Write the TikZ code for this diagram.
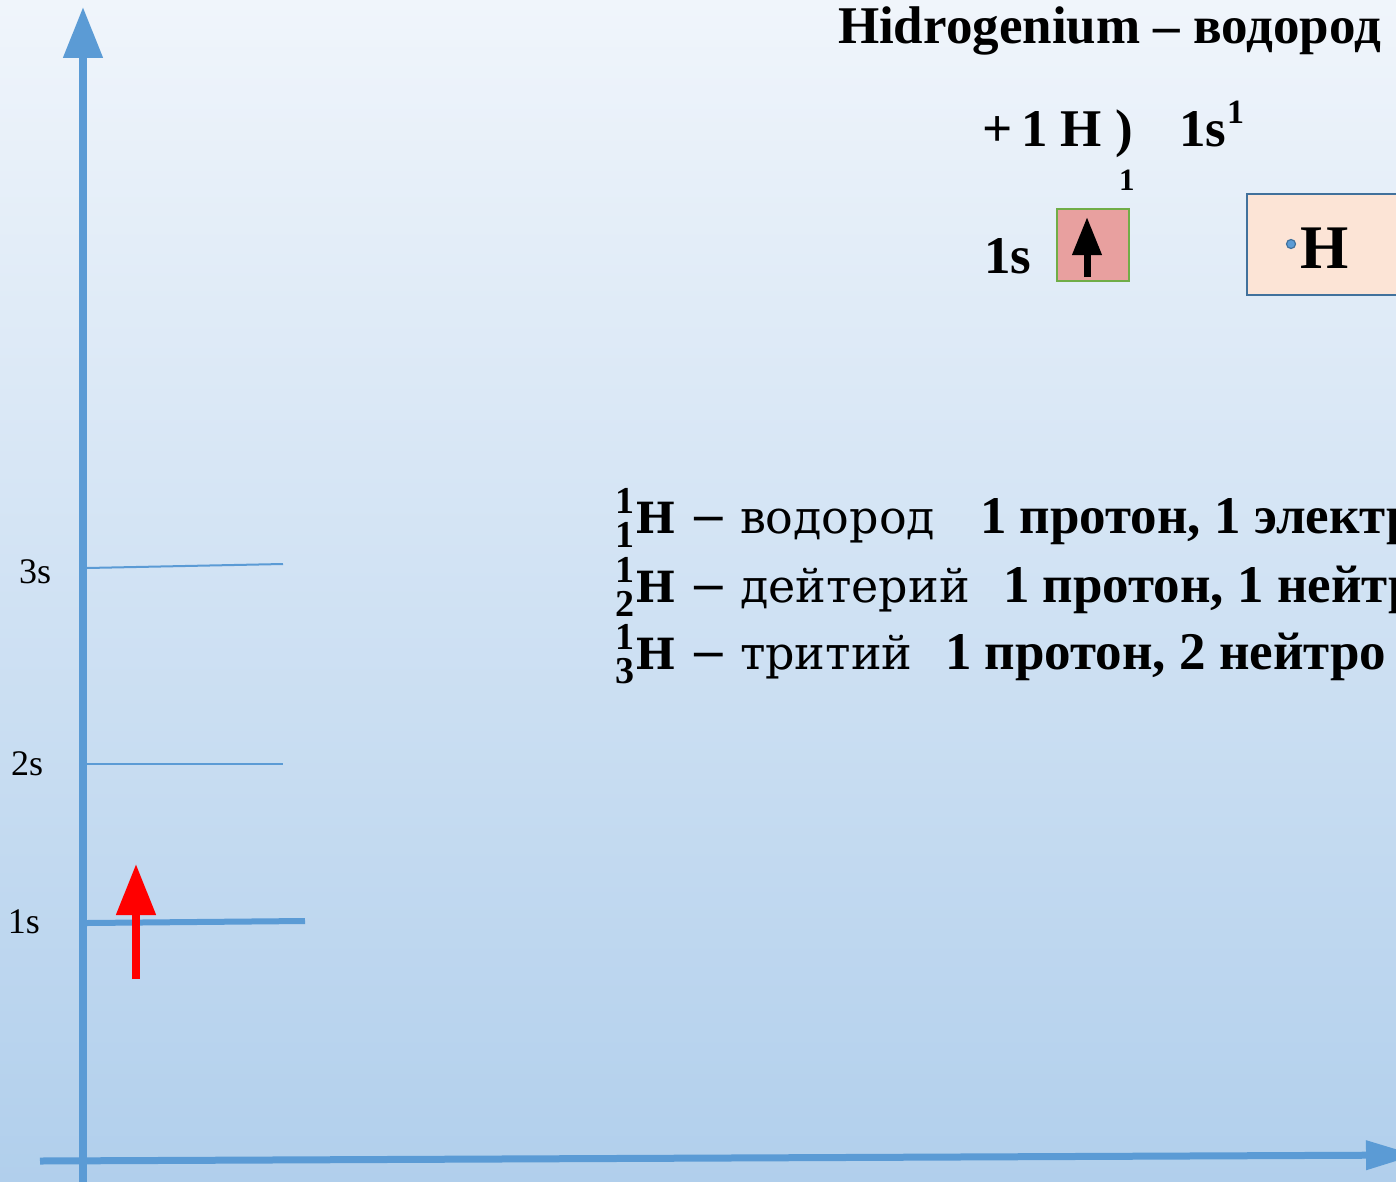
\documentclass[tikz,border=0pt]{standalone}
\usepackage{fontspec}
\setmainfont{Liberation Serif}
\newfontfamily\dvs{DejaVu Serif}
\usetikzlibrary{arrows.meta}
\definecolor{axisblue}{HTML}{5B9BD5}
\definecolor{bgtop}{HTML}{F0F5FB}
\definecolor{bgbot}{HTML}{B1CFEC}
\definecolor{orbfill}{HTML}{E8A09F}
\definecolor{orbdraw}{HTML}{70AD47}
\definecolor{hfill}{HTML}{FCE4D6}
\definecolor{hdraw}{HTML}{41719C}
\tikzset{
  txt/.style={anchor=base west, inner sep=0pt, outer sep=0pt},
  titletxt/.style={txt, font=\fontsize{53}{58}\selectfont\bfseries},
  bigbold/.style={txt, font=\fontsize{53}{60}\selectfont\bfseries},
  lvltxt/.style={txt, font=\fontsize{36}{40}\selectfont},
  isodigit/.style={txt, font=\fontsize{38}{42}\selectfont\bfseries},
  isoH/.style={txt, font=\fontsize{43}{48}\selectfont\dvs\bfseries},
  isoword/.style={txt, font=\fontsize{46}{50}\selectfont\dvs},
  isobold/.style={txt, font=\fontsize{53}{60}\selectfont\bfseries},
  axisline/.style={draw=axisblue, line width=8pt},
  level/.style={draw=axisblue, line width=2pt},
}
\begin{document}
\begin{tikzpicture}[x=1pt,y=-1pt]
\useasboundingbox (0,0) rectangle (1396,1182);
\shade[top color=bgtop, bottom color=bgbot] (0,0) rectangle (1396,1182);

% axes
\coordinate (vbot) at (83,1182);
\coordinate (vtop) at (83,7);
\coordinate (hleft) at (40,1161);
\coordinate (hright) at (1416,1155);
\draw[axisline, -{Triangle[width=38pt,length=51pt]}] (vbot) -- (vtop);
\draw[axisline, line width=7pt, -{Triangle[width=28pt,length=50pt]}] (hleft) -- (hright);

% levels
\coordinate (s3a) at (87,568); \coordinate (s3b) at (283,564);
\coordinate (s2a) at (87,764); \coordinate (s2b) at (283,764);
\coordinate (s1a) at (87,923); \coordinate (s1b) at (305,921);
\draw[level] (s3a) -- (s3b);
\draw[level] (s2a) -- (s2b);
\draw[level, line width=6pt] (s1a) -- (s1b);
\node[lvltxt] (l3) at (19,583) {3s};
\node[lvltxt] (l2) at (11,775) {2s};
\node[lvltxt] (l1) at (8,933) {1s};

% red electron arrow
\coordinate (ra) at (136,979);
\coordinate (rb) at (136,864);
\draw[red, line width=8pt, -{Triangle[width=38pt,length=51pt]}] (ra) -- (rb);

% title
\node[titletxt] (title) at (838,44) {Hidrogenium – водород};

% configuration
\node[bigbold] (conf) at (982,147) {+\,1 H )};
\node[bigbold] (conf1s) at (1179,147) {1s};
\node[txt, font=\fontsize{34}{40}\selectfont\bfseries] (confsup) at (1227,124) {1};
\node[txt, font=\fontsize{31}{36}\selectfont\bfseries] (small1) at (1119,191) {1};
\node[bigbold] (orb1s) at (984,273) {1s};

\node[draw=orbdraw, fill=orbfill, line width=2.5pt, minimum width=72pt, minimum height=72pt, inner sep=0pt] (box) at (1093,245) {};
\coordinate (ba) at (1087,277);
\coordinate (bb) at (1087,217);
\draw[black, line width=7pt, -{Triangle[width=28pt,length=38pt]}] (ba) -- (bb);

% Lewis H box
\node[draw=hdraw, fill=hfill, line width=2.5pt, minimum width=170pt, minimum height=101pt, inner sep=0pt] (hbox) at (1332,244.5) {};
\node[circle, fill=axisblue, draw=hdraw, line width=1.2pt, minimum size=9pt, inner sep=0pt] (dot) at (1291,244) {};
\node[txt, font=\fontsize{62}{66}\selectfont\bfseries] (lewisH) at (1300,268) {H};

% isotopes
\foreach \n/\y/\sub/\word/\bx/\rest in {1/533/1/водород/980/{1 протон, 1 электр},
                                          2/602/2/дейтерий/1003/{1 протон, 1 нейтр},
                                          3/669/3/тритий/945/{1 протон, 2 нейтро}}{
  \node[isodigit] (sup\n) at (615,\y-20) {1};
  \node[isodigit] (sub\n) at (615,\y+14) {\sub};
  \node[isoH] (H\n) at (635,\y) {H};
  \node[isoword] (dash\n) at (689,\y) {−};
  \node[isoword] (w\n) at (740,\y) {\word};
  \node[isobold] (b\n) at (\bx,\y) {\rest};
}
\end{tikzpicture}
\end{document}
